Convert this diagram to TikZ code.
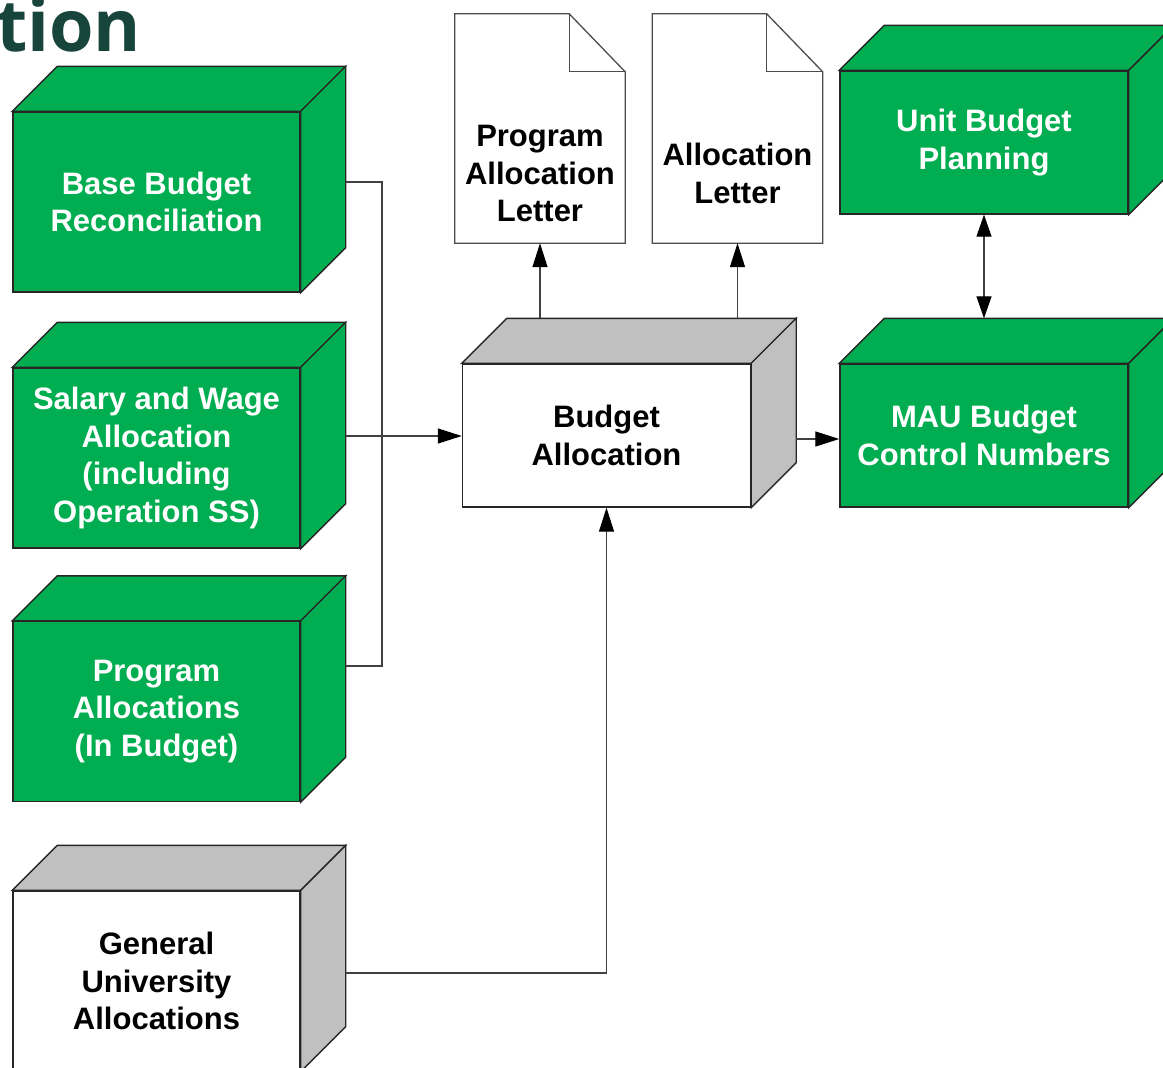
\documentclass[tikz,border=0pt]{standalone}
\usepackage{fontspec}
\setmainfont{Liberation Sans}
\newfontfamily\titlefont{Open Sans}
\usetikzlibrary{calc,arrows.meta}
\definecolor{boxgreen}{RGB}{0,173,80}
\definecolor{sidegray}{RGB}{192,192,192}
\definecolor{msugreen}{RGB}{24,69,59}
\newcommand{\cubefaces}[2]{%
  \draw[edge, fill=#2] (#1.north west) -- ++(45,-45) -- ($(#1.north east)+(45,-45)$) -- (#1.north east) -- cycle;
  \draw[edge, fill=#2] (#1.north east) -- ++(45,-45) -- ($(#1.south east)+(45,-45)$) -- (#1.south east) -- cycle;}
\newcommand{\docoutline}[1]{%
  \draw[docedge, fill=white] (#1.north west) -- ($(#1.north east)+(-56,0)$) -- ($(#1.north east)+(0,58)$) -- (#1.south east) -- (#1.south west) -- cycle;
  \draw[docedge] ($(#1.north east)+(-56,0)$) -- ($(#1.north east)+(-56,58)$) -- ($(#1.north east)+(0,58)$);}
\begin{document}
\begin{tikzpicture}[x=1pt,y=-1pt,
  edge/.style={draw=black!85, line width=1.4pt, line join=miter},
  docedge/.style={draw=black!70, line width=1.3pt},
  conn/.style={draw=black!75, line width=1.3pt},
  tip/.style={Triangle[length=24pt,width=15pt,fill=black,color=black]},
  arr/.style={conn, -{Triangle[length=24pt,width=15pt,color=black]}},
  darr/.style={conn, {Triangle[length=22pt,width=15pt,color=black]}-{Triangle[length=22pt,width=15pt,color=black]}},
  lbl/.style={align=center, font=\fontsize{31}{37.5}\selectfont\bfseries},
  cubefront/.style={edge, lbl, inner sep=0pt},
  tallbox/.style={cubefront, minimum width=287pt, minimum height=180pt},
  widebox/.style={cubefront, minimum width=288pt, minimum height=143pt},
  greenf/.style={fill=boxgreen, text=white},
  whitef/.style={fill=white, text=black},
  docnode/.style={minimum width=170pt, minimum height=229pt, inner sep=0pt}
]
\useasboundingbox (0,0) rectangle (1163,1068);
\clip (0,0) rectangle (1163,1068);

% title fragment
\node[font=\titlefont\bfseries\fontsize{72}{72}\selectfont, text=msugreen, anchor=base west, inner sep=0pt] (title) at (-4,51) {tion};

% left column
\node[tallbox, greenf] (bbr) at (156.5,202) {Base Budget\\Reconciliation};
\cubefaces{bbr}{boxgreen}
\node[tallbox, greenf] (saw) at (156.5,458) {Salary and Wage\\Allocation\\(including\\Operation SS)};
\cubefaces{saw}{boxgreen}
\node[tallbox, greenf] (pa) at (156.5,711.5) {Program\\Allocations\\(In Budget)};
\cubefaces{pa}{boxgreen}
\node[tallbox, whitef] (gua) at (156.5,981) {General\\University\\Allocations};
\cubefaces{gua}{sidegray}

% centre
\node[widebox, whitef] (ba) at (606.5,435.5) {Budget\\Allocation};
\cubefaces{ba}{sidegray}

% right
\node[widebox, greenf] (ubp) at (984,142.5) {Unit Budget\\Planning};
\cubefaces{ubp}{boxgreen}
\node[widebox, greenf] (mau) at (984,435.5) {MAU Budget\\Control Numbers};
\cubefaces{mau}{boxgreen}

% documents
\node[docnode] (pal) at (540,128.5) {};
\docoutline{pal}
\node[lbl] (palt) at ($(pal.center)+(0,45)$) {Program\\Allocation\\Letter};
\node[docnode] (al) at (737.5,128.5) {};
\docoutline{al}
\node[lbl] (alt) at ($(al.center)+(0,45)$) {Allocation\\Letter};

% connector points
\coordinate (bbrp) at ($(bbr.east)+(45,-20)$);
\coordinate (sawp) at ($(saw.east)+(45,-22)$);
\coordinate (pap) at ($(pa.east)+(45,-45.5)$);
\coordinate (guap) at ($(gua.east)+(45,-8)$);
\coordinate (batop) at ($(ba.north)+(0,-45)$);
\coordinate (baside) at ($(ba.east)+(45,3.5)$);
\coordinate (mautop) at ($(mau.north)+(0,-45)$);
\coordinate (j1) at (382,182);
\coordinate (j2) at (382,666);

% connectors
\draw[conn] (bbrp) -- (bbrp -| j1) -- (j2 |- pap) -- (pap);
\draw[arr] (sawp) -- (sawp -| ba.west);
\draw[arr] (batop -| pal.south) -- (pal.south);
\draw[arr] (batop -| al.south) -- (al.south);
\draw[arr] (baside) -- (baside -| mau.west);
\draw[darr] (ubp.south) -- (mautop);
\draw[arr] (guap) -| (ba.south);
\end{tikzpicture}
\end{document}
